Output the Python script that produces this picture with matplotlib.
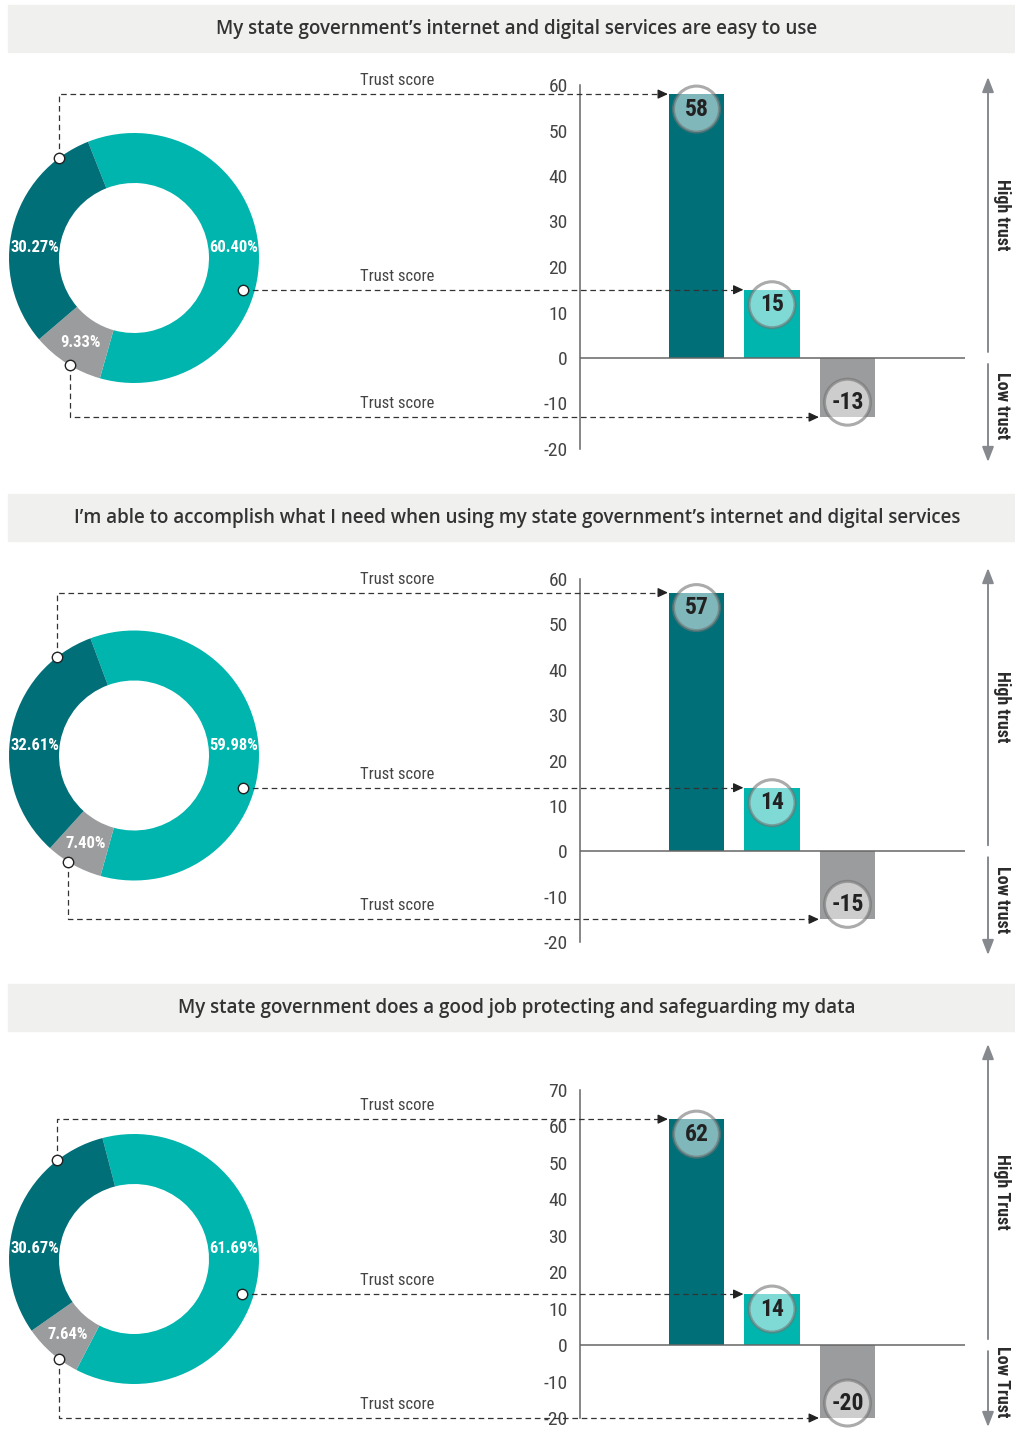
import numpy as np
import matplotlib
matplotlib.use("Agg")
import matplotlib.pyplot as plt
from matplotlib import font_manager
from matplotlib.patches import Circle, Rectangle

plt.rcParams["axes.unicode_minus"] = False

# ---- data ----
titles = [
    "My state government\u2019s internet and digital services are easy to use",
    "I\u2019m able to accomplish what I need when using my state government\u2019s internet and digital services",
    "My state government does a good job protecting and safeguarding my data",
]
pct_dark = [30.27, 32.61, 30.67]
pct_teal = [60.40, 59.98, 61.69]
pct_grey = [9.33, 7.40, 7.64]
score_dark = [58, 57, 62]
score_teal = [15, 14, 14]
score_grey = [-13, -15, -20]
axis_max = [60, 60, 70]
axis_min = [-20, -20, -20]
high_labels = ["High trust", "High trust", "High Trust"]
low_labels = ["Low trust", "Low trust", "Low Trust"]
link_label = "Trust score"

# ---- style / layout (pixels) ----
W, H = 1015, 1429
C_DARK, C_TEAL, C_GREY = "#006f78", "#00b5ad", "#9b9c9e"
BAND = "#f0f0ef"
INK = "#2b2b2b"
band_top = [5, 494, 984]
donut_cy = [258, 755.5, 1259]
bar_top = [85, 579, 1090]
bar_bot = [449, 942, 1418]
arrow_top = [77, 568, 1044]
arrow_bot = [462, 955, 1427]
start_angle = [111.6, 110.4, 104.6]
top_marker_ang = [127, 128, 128]
grey_marker_ang = [-121, -122, -127]
R_PX = 125
CX = 134


def pick(names):
    for n in names:
        try:
            font_manager.findfont(font_manager.FontProperties(family=n),
                                  fallback_to_default=False)
            return n
        except Exception:
            pass
    return "DejaVu Sans"


NARROW = pick(["Liberation Sans Narrow", "Roboto Condensed", "Open Sans Condensed", "Roboto"])
TITLE_FONT = pick(["Open Sans", "Noto Sans", "DejaVu Sans"])

fig = plt.figure(figsize=(W / 100, H / 100), dpi=100)


def px_axes(left, top, width, height, **kw):
    return fig.add_axes([left / W, 1 - (top + height) / H, width / W, height / H], **kw)


def to_px(ax, x, y):
    dx, dy = ax.transData.transform((x, y))
    return dx, H - dy


bar_axes = []
for i in range(3):
    # donut
    cy = donut_cy[i]
    dax = px_axes(CX - 130, cy - 130, 260, 260)
    dax.pie([pct_teal[i], pct_grey[i], pct_dark[i]],
            colors=[C_TEAL, C_GREY, C_DARK], startangle=start_angle[i],
            counterclock=False, radius=1.0,
            wedgeprops=dict(width=0.4, linewidth=0))
    dax.set_xlim(-1.04, 1.04)
    dax.set_ylim(-1.04, 1.04)
    dax.set_aspect("equal")
    lab_kw = dict(ha="center", va="center", color="white", fontsize=12,
                  fontweight="bold", family=NARROW)
    dax.text(0.8 * np.cos(np.radians(6)), 0.8 * np.sin(np.radians(6)),
             f"{pct_teal[i]:.2f}%", **lab_kw)
    dax.text(0.8 * np.cos(np.radians(174)), 0.8 * np.sin(np.radians(174)),
             f"{pct_dark[i]:.2f}%", **lab_kw)
    mid = np.radians(start_angle[i] - 3.6 * (pct_teal[i] + pct_grey[i] / 2))
    dax.text(0.8 * np.cos(mid), 0.8 * np.sin(mid), f"{pct_grey[i]:.2f}%", **lab_kw)

    # bars
    bax = px_axes(580, bar_top[i], 385, bar_bot[i] - bar_top[i])
    bax.bar([0, 1, 2], [score_dark[i], score_teal[i], score_grey[i]], width=0.73,
            color=[C_DARK, C_TEAL, C_GREY], zorder=2)
    bax.set_xlim(-1.543, 3.556)
    bax.set_ylim(axis_min[i], axis_max[i])
    bax.set_yticks(np.arange(axis_min[i], axis_max[i] + 1, 10))
    bax.set_xticks([])
    bax.tick_params(axis="y", length=0, pad=9, labelsize=14, labelcolor="#444")
    for t in bax.get_yticklabels():
        t.set_family(NARROW)
    for s in ["top", "right", "bottom"]:
        bax.spines[s].set_visible(False)
    bax.spines["left"].set_color("#666")
    bax.spines["left"].set_linewidth(1.1)
    bax.axhline(0, color="#666", lw=1.1, zorder=3)
    bax.patch.set_alpha(0)
    bar_axes.append(bax)

# ---- overlay in pixel space ----
ov = fig.add_axes([0, 0, 1, 1], zorder=10)
ov.set_xlim(0, W)
ov.set_ylim(H, 0)
ov.axis("off")

dash = dict(color="#333", lw=0.9, linestyle=(0, (4.5, 3)))
head = dict(arrowstyle="-|>,head_length=0.6,head_width=0.28", color="#222",
            lw=0.9, shrinkA=0, shrinkB=0)
link_font = dict(family=NARROW, fontsize=12, color="#444", ha="center", va="bottom")

for i in range(3):
    bax = bar_axes[i]
    cy = donut_cy[i]
    ov.add_patch(Rectangle((8, band_top[i]), W - 8, 47, color=BAND, zorder=0))
    ov.text(517, band_top[i] + 24, titles[i], ha="center", va="center",
            fontsize=13.5, fontweight="semibold", color="#333", family=TITLE_FONT)

    scores = [score_dark[i], score_teal[i], score_grey[i]]

    # marker positions on the ring
    a = np.radians(top_marker_ang[i])
    m_top = (CX + R_PX * np.cos(a), cy - R_PX * np.sin(a))
    _, y_teal = to_px(bax, 0, score_teal[i])
    r_in = 0.91 * R_PX
    m_teal = (CX + np.sqrt(r_in ** 2 - (y_teal - cy) ** 2), y_teal)
    a = np.radians(grey_marker_ang[i])
    m_grey = (CX + R_PX * np.cos(a), cy - R_PX * np.sin(a))
    markers = [m_top, m_teal, m_grey]

    for k in range(3):
        x_left, y_end = to_px(bax, k - 0.365, scores[k])
        tip = x_left - 1
        mx, my = markers[k]
        ov.plot([mx, mx, tip - 8], [my, y_end, y_end], **dash, zorder=4)
        ov.annotate("", xy=(tip, y_end), xytext=(tip - 9, y_end), arrowprops=head,
                    zorder=5)
        ov.plot(mx, my, "o", ms=7.5, mfc="white", mec="#222", mew=1, zorder=6)
        ov.text(397, y_end - 6, link_label, **link_font)

        # value bubble
        xc, yb = to_px(bax, k, scores[k])
        yc = yb + 15 if scores[k] > 0 else yb - 15
        ov.add_patch(Circle((xc, yc), 23, facecolor=(1, 1, 1, 0.5),
                            edgecolor=(0.45, 0.45, 0.45, 0.6), lw=2.2, zorder=7))
        ov.text(xc, yc, f"{scores[k]}", ha="center", va="center", fontsize=17,
                fontweight="bold", color="#222", family=NARROW, zorder=8)

    # high / low trust arrows
    _, y0 = to_px(bax, 0, 0)
    ax_kw = dict(arrowstyle="-|>,head_length=0.9,head_width=0.35", color="#868a8e",
                 lw=1.4, shrinkA=0, shrinkB=0)
    ov.annotate("", xy=(988, arrow_top[i]), xytext=(988, y0 - 6), arrowprops=ax_kw)
    ov.annotate("", xy=(988, arrow_bot[i]), xytext=(988, y0 + 6), arrowprops=ax_kw)
    ov.text(1002, (arrow_top[i] + y0) / 2 - 3, high_labels[i], rotation=-90,
            ha="center", va="center", fontsize=13, fontweight="bold", color=INK,
            family=NARROW)
    ov.text(1002, (arrow_bot[i] + y0) / 2 - 4, low_labels[i], rotation=-90,
            ha="center", va="center", fontsize=13, fontweight="bold", color=INK,
            family=NARROW)

fig.savefig("out.png", dpi=100, facecolor="white")
